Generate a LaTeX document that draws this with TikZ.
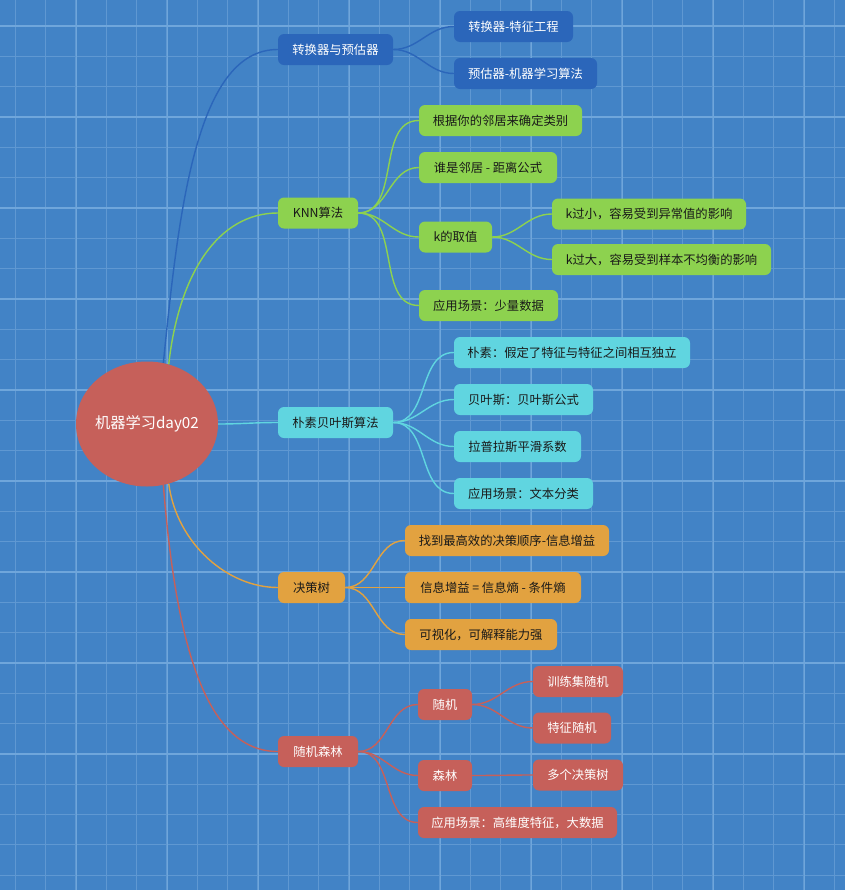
\documentclass[tikz,border=0pt]{standalone}
\usepackage{fontspec}
\setmainfont{Noto Sans CJK SC}
\usepackage{tikz}
\usetikzlibrary{shapes.geometric,positioning,calc}
\usepackage{xcolor}

\definecolor{bgblue}{HTML}{4283C6}
\definecolor{gridminor}{HTML}{5F98D2}
\definecolor{gridmajor}{HTML}{6FA6DB}
\definecolor{convblue}{HTML}{2B66BA}
\definecolor{knngreen}{HTML}{8DD24F}
\definecolor{bayescyan}{HTML}{60D5E0}
\definecolor{treeorange}{HTML}{E2A240}
\definecolor{forestred}{HTML}{C6605A}

\begin{document}
\begin{tikzpicture}[
    x=0.03cm, y=0.03cm,
    box/.style={rectangle, rounded corners=0.18cm, minimum height=0.93cm, inner sep=0pt, font=\fontsize{10.5}{12}\selectfont},
    bw/.style={minimum width=#1*0.03cm},
    conv/.style={box, fill=convblue, text=white},
    knn/.style={box, fill=knngreen, text=black!90},
    bayes/.style={box, fill=bayescyan, text=black!90},
    tree/.style={box, fill=treeorange, text=black!90},
    forest/.style={box, fill=forestred, text=white},
    link/.style={line width=1.2pt}
]
    % Background and grid
    \useasboundingbox (0,0) rectangle (845,-890);
    \fill[bgblue] (0,0) rectangle (845,-890);
    \foreach \i in {0,...,28} {
        \draw[gridminor, line width=0.85pt] (15.3+\i*30.33,0) -- (15.3+\i*30.33,-890);
        \draw[gridminor, line width=0.85pt] (0,-26-\i*30.33) -- (845,-26-\i*30.33);
    }
    \foreach \i in {0,...,8} {
        \draw[gridmajor, line width=1.1pt] (76.7,0) ++(\i*91,0) -- ++(0,-890);
        \draw[gridmajor, line width=1.1pt] (0,-26) ++(0,-\i*91) -- ++(845,0);
    }

    % Root
    \node[ellipse, fill=forestred, text=white, minimum width=4.26cm, minimum height=3.75cm, inner sep=0pt,
          font=\fontsize{13}{15}\selectfont] (root) at (147,-424) {\makebox[0pt]{机器学习day02}};

    % Converters
    \node[conv, bw=115] (conv) at (335.5,-49.5) {转换器与预估器};
    \node[conv, bw=119] (conv1) at (513.5,-26.5) {转换器-特征工程};
    \node[conv, bw=143] (conv2) at (525.5,-73.5) {预估器-机器学习算法};

    % KNN
    \node[knn, bw=80] (knn) at (318,-213) {KNN算法};
    \node[knn, bw=163] (knn1) at (500.5,-120.5) {根据你的邻居来确定类别};
    \node[knn, bw=138] (knn2) at (488,-167.5) {谁是邻居 - 距离公式};
    \node[knn, bw=73] (knn3) at (455.5,-237) {k的取值};
    \node[knn, bw=194] (knn31) at (649,-214) {k过小，容易受到异常值的影响};
    \node[knn, bw=219] (knn32) at (661.5,-259.5) {k过大，容易受到样本不均衡的影响};
    \node[knn, bw=139] (knn4) at (488.5,-305.5) {应用场景：少量数据};

    % Naive Bayes
    \node[bayes, bw=115] (bayes) at (335.5,-422.5) {朴素贝叶斯算法};
    \node[bayes, bw=236] (bayes1) at (572,-352.5) {朴素：假定了特征与特征之间相互独立};
    \node[bayes, bw=139] (bayes2) at (523.5,-399.5) {贝叶斯：贝叶斯公式};
    \node[bayes, bw=127] (bayes3) at (517.5,-446.5) {拉普拉斯平滑系数};
    \node[bayes, bw=139] (bayes4) at (523.5,-493.5) {应用场景：文本分类};

    % Decision tree
    \node[tree, bw=67] (tree) at (311.5,-587.5) {决策树};
    \node[tree, bw=204] (tree1) at (507,-540.5) {找到最高效的决策顺序-信息增益};
    \node[tree, bw=176] (tree2) at (493,-587.5) {信息增益 = 信息熵 - 条件熵};
    \node[tree, bw=152] (tree3) at (481,-634.5) {可视化，可解释能力强};

    % Random forest
    \node[forest, bw=80] (forest) at (318,-751.5) {随机森林};
    \node[forest, bw=54] (rand) at (445,-704.5) {随机};
    \node[forest, bw=90] (rand1) at (578,-681.5) {训练集随机};
    \node[forest, bw=78] (rand2) at (572,-728) {特征随机};
    \node[forest, bw=54] (wood) at (445,-775.5) {森林};
    \node[forest, bw=90] (wood1) at (578,-775) {多个决策树};
    \node[forest, bw=199] (forest3) at (517.5,-822.5) {应用场景：高维度特征，大数据};

    % Links from root
    \draw[link, convblue] (root.75) .. controls +(16,160) and +(-80,0) .. (conv.west);
    \draw[link, knngreen] (root.70) .. controls +(10,90) and +(-60,0) .. (knn.west);
    \draw[link, bayescyan] (root.east) to[out=0, in=180] (bayes.west);
    \draw[link, treeorange] (root.-70) .. controls +(8,-60) and +(-50,0) .. (tree.west);
    \draw[link, forestred] (root.-75) .. controls +(12,-150) and +(-75,0) .. (forest.west);

    % Links to leaves
    \foreach \a/\b in {conv/conv1, conv/conv2}
        \draw[link, convblue] (\a.east) to[out=0, in=180] (\b.west);
    \foreach \a/\b in {knn/knn1, knn/knn2, knn/knn3, knn/knn4, knn3/knn31, knn3/knn32}
        \draw[link, knngreen] (\a.east) to[out=0, in=180] (\b.west);
    \foreach \b in {bayes1, bayes2, bayes3, bayes4}
        \draw[link, bayescyan] (bayes.east) to[out=0, in=180] (\b.west);
    \foreach \b in {tree1, tree2, tree3}
        \draw[link, treeorange] (tree.east) to[out=0, in=180] (\b.west);
    \foreach \a/\b in {forest/rand, forest/wood, forest/forest3, rand/rand1, rand/rand2, wood/wood1}
        \draw[link, forestred] (\a.east) to[out=0, in=180] (\b.west);
\end{tikzpicture}
\end{document}
